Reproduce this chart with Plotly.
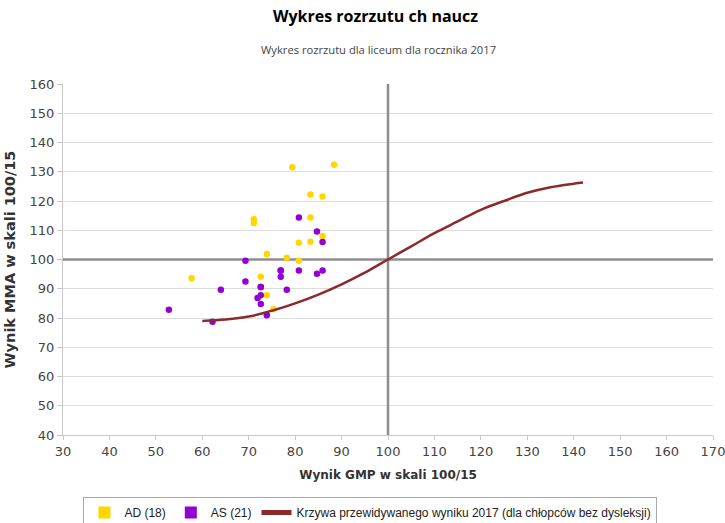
import plotly.graph_objects as go

# AD (18)
ad_x = [79.4, 88.4, 83.3, 85.9, 71.1, 71.1, 83.3, 85.9, 80.8, 83.3, 73.9, 78.2, 80.8, 57.7, 72.6, 73.9, 75.3, 72.6]
ad_y = [131.5, 132.4, 122.2, 121.5, 113.8, 112.5, 114.4, 108.0, 105.7, 106.1, 101.9, 100.6, 99.6, 93.6, 94.1, 87.8, 83.0, 90.6]
# AS (21)
as_x = [80.8, 84.7, 85.9, 69.3, 76.9, 76.9, 80.8, 84.7, 85.9, 69.3, 64.0, 72.6, 78.2, 72.6, 71.9, 72.6, 52.8, 73.9, 62.2, 72.6, 76.9]
as_y = [114.4, 109.6, 106.0, 99.6, 96.2, 94.1, 96.2, 95.1, 96.2, 92.5, 89.7, 90.6, 89.7, 87.8, 86.8, 84.8, 82.8, 80.9, 78.7, 90.6, 96.2]
# predicted curve
curve_x = [60, 65, 70, 75, 80, 85, 90, 95, 100, 105, 110, 115, 120, 125, 130, 135, 140, 142]
curve_y = [79, 79.5, 80.5, 82.5, 85, 88, 91.5, 95.5, 100, 104.5, 109, 113, 117, 120, 122.8, 124.7, 125.9, 126.3]

x_ticks = list(range(30, 171, 10))
y_ticks = list(range(40, 161, 10))

YEL = "#FFD700"
PUR = "#9400D3"
RED = "#8B2A2A"

fig = go.Figure()
fig.add_trace(go.Scatter(x=ad_x, y=ad_y, mode="markers", marker=dict(color=YEL, size=6.5), showlegend=False))
fig.add_trace(go.Scatter(x=as_x, y=as_y, mode="markers", marker=dict(color=PUR, size=6.5), showlegend=False))
fig.add_trace(go.Scatter(x=curve_x, y=curve_y, mode="lines", line=dict(color=RED, width=2.5, shape="spline"), showlegend=False))
# legend entries
fig.add_trace(go.Scatter(x=[None], y=[None], mode="markers", marker=dict(color=YEL, size=10, symbol="square"), name="AD (18)"))
fig.add_trace(go.Scatter(x=[None], y=[None], mode="markers", marker=dict(color=PUR, size=10, symbol="square"), name="AS (21)"))
fig.add_trace(go.Scatter(x=[None], y=[None], mode="lines", line=dict(color=RED, width=2), name="Krzywa przewidywanego wyniku 2017 (dla chłopców bez dysleksji)"))

fig.add_shape(type="line", x0=100, x1=100, y0=40, y1=160, xref="x", yref="y", line=dict(color="#8E8E8E", width=2.5), layer="between")
fig.add_shape(type="line", x0=30, x1=170, y0=100, y1=100, xref="x", yref="y", line=dict(color="#8E8E8E", width=2.5), layer="between")

fig.update_layout(
    width=725, height=523,
    margin=dict(l=63, r=12, t=84, b=88),
    plot_bgcolor="white", paper_bgcolor="white",
    font=dict(family="Open Sans", color="#333333", size=12),
    title=dict(text="<b>Wykres rozrzutu ch naucz</b>", x=0.518, xref="container", y=0.968, yanchor="middle",
               font=dict(size=16, color="#000000", family="Open Sans")),
    annotations=[dict(text="Wykres rozrzutu dla liceum dla rocznika 2017", xref="paper", yref="paper",
                      x=0.485, y=1.097, showarrow=False, font=dict(size=11.2, color="#444444", family="Open Sans"), yanchor="middle")],
    xaxis=dict(range=[30, 170], tickvals=x_ticks, showgrid=False, zeroline=False, automargin=False,
               showline=True, linecolor="#C8C8C8", linewidth=1, ticks="outside", ticklen=4, tickcolor="#C8C8C8",
               ticklabeloverflow="allow",
               tickfont=dict(size=13, color="#444444", family="DejaVu Sans"),
               title=dict(text="<b>Wynik GMP w skali 100/15</b>", font=dict(size=12, color="#333333", family="DejaVu Sans"), standoff=13)),
    yaxis=dict(range=[40, 160], tickvals=y_ticks, showgrid=True, gridcolor="#DDDDDD", gridwidth=1, zeroline=False, automargin=False,
               showline=True, linecolor="#C8C8C8", linewidth=1, ticks="outside", ticklen=5, tickcolor="#C8C8C8",
               ticklabeloverflow="allow",
               tickfont=dict(size=13, color="#444444", family="DejaVu Sans"),
               title=dict(text="<b>Wynik MMA w skali 100/15</b>", font=dict(size=14.5, color="#333333", family="DejaVu Sans"), standoff=10)),
    legend=dict(orientation="h", x=0.473, xanchor="center", yref="container", y=1 - 497 / 523, yanchor="top",
                bordercolor="#AAAAAA", borderwidth=1, font=dict(size=12, color="#222222", family="Liberation Sans"),
                itemsizing="constant", traceorder="normal", tracegroupgap=0, itemwidth=30),
)
fig.write_html("out.html", config={"displayModeBar": False},
               post_script="document.body.style.margin='0';document.body.style.overflow='hidden';")
